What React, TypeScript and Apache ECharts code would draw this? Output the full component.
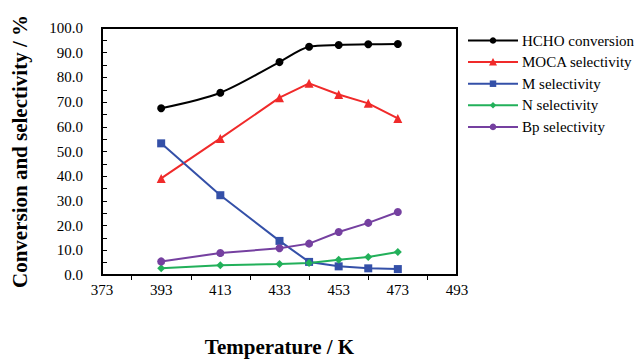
import React, { useEffect, useRef } from "react";
import * as echarts from "echarts";

const temperatures = [393, 413, 433, 443, 453, 463, 473];
const hchoConversion = [67.5, 73.8, 86.2, 92.4, 93.1, 93.4, 93.5];
const mocaSelectivity = [39.1, 55.3, 71.8, 77.6, 73.1, 69.5, 63.4];
const mSelectivity = [53.3, 32.3, 13.8, 5.3, 3.5, 2.7, 2.4];
const nSelectivity = [2.7, 3.9, 4.5, 4.9, 6.2, 7.3, 9.3];
const bpSelectivity = [5.5, 8.9, 10.8, 12.7, 17.4, 21.1, 25.5];

const seriesNames = ["HCHO conversion", "MOCA selectivity", "M selectivity", "N selectivity", "Bp selectivity"];
const seriesColors = ["#000000", "#f02a2a", "#3450a8", "#22b05a", "#7540a0"];
const seriesSymbols = ["circle", "triangle", "rect", "diamond", "circle"];

const FONT = "Liberation Serif";

function legendMarker(symbol: string, cx: number, cy: number, color: string, s: number) {
  const style = { fill: color };
  if (symbol === "circle") return { type: "circle", shape: { cx, cy, r: s / 2 }, style };
  if (symbol === "rect") return { type: "rect", shape: { x: cx - s / 2, y: cy - s / 2, width: s, height: s }, style };
  if (symbol === "triangle")
    return { type: "polygon", shape: { points: [[cx, cy - s / 2 - 0.5], [cx + s / 2 + 0.5, cy + s / 2], [cx - s / 2 - 0.5, cy + s / 2]] }, style };
  return { type: "polygon", shape: { points: [[cx, cy - s / 2], [cx + s / 2, cy], [cx, cy + s / 2], [cx - s / 2, cy]] }, style };
}

export default function App() {
  const ref = useRef<HTMLDivElement>(null);
  useEffect(() => {
    if (!ref.current) return;
    const chart = echarts.init(ref.current, null, { renderer: "svg" });
    const pair = (vals: number[]) => temperatures.map((t, i) => [t, vals[i]]);
    const values = [hchoConversion, mocaSelectivity, mSelectivity, nSelectivity, bpSelectivity];
    const series = seriesNames.map((name, i) => ({
      name,
      type: "line",
      data: pair(values[i]),
      smooth: i === 0 ? 0.3 : false,
      symbol: seriesSymbols[i],
      symbolSize: seriesSymbols[i] === "triangle" ? 9 : 8,
      showSymbol: true,
      lineStyle: { color: seriesColors[i], width: 2 },
      itemStyle: { color: seriesColors[i] },
      z: 3,
    }));

    const legendLeft = 468;
    const legendTop = 40.5;
    const rowGap = 21.6;
    const legendChildren: any[] = [];
    seriesNames.forEach((name, i) => {
      const y = legendTop + i * rowGap;
      legendChildren.push({
        type: "line",
        shape: { x1: legendLeft, y1: y, x2: legendLeft + 50, y2: y },
        style: { stroke: seriesColors[i], lineWidth: 2 },
      });
      legendChildren.push(legendMarker(seriesSymbols[i], legendLeft + 25, y, seriesColors[i], seriesSymbols[i] === "triangle" ? 7 : 6.5));
      legendChildren.push({
        type: "text",
        x: legendLeft + 54,
        y,
        style: {
          text: name,
          font: "normal 15px 'Times New Roman', 'Liberation Serif', serif",
          fill: "#000",
          verticalAlign: "middle",
          align: "left",
        },
      });
    });

    chart.setOption({
      animation: false,
      backgroundColor: "#fff",
      textStyle: { fontFamily: FONT },
      grid: {
        left: 102,
        right: 181,
        top: 28,
        bottom: 85,
        show: true,
        containLabel: false,
        outerBoundsMode: "none",
        borderColor: "#000",
        borderWidth: 2,
        backgroundColor: "transparent",
      },
      legend: { show: false, data: seriesNames },
      graphic: [{ type: "group", children: legendChildren }],
      xAxis: {
        type: "value",
        min: 373,
        max: 493,
        interval: 20,
        name: "Temperature / K",
        nameLocation: "middle",
        nameGap: 61,
        nameTextStyle: { fontFamily: FONT, fontSize: 21, fontWeight: "bold", color: "#000" },
        axisLine: { show: true, lineStyle: { color: "#000", width: 2 } },
        axisTick: { show: false },
        minorTick: { show: true, splitNumber: 2, inside: true, length: 5, lineStyle: { color: "#000", width: 1 } },
        axisLabel: { fontFamily: FONT, fontSize: 15, color: "#000", margin: 7 },
        splitLine: { show: false },
        minorSplitLine: { show: false },
      },
      yAxis: {
        type: "value",
        min: 0,
        max: 100,
        interval: 10,
        name: "Conversion and selectivity / %",
        nameLocation: "middle",
        nameGap: 72,
        nameTextStyle: { fontFamily: FONT, fontSize: 21, fontWeight: "bold", color: "#000" },
        axisLine: { show: true, lineStyle: { color: "#000", width: 2 } },
        axisTick: { show: true, inside: true, length: 5, lineStyle: { color: "#000", width: 1 } },
        minorTick: { show: true, splitNumber: 2, inside: true, length: 5, lineStyle: { color: "#000", width: 1 } },
        axisLabel: { fontFamily: FONT, fontSize: 15, color: "#000", margin: 19, formatter: (v: number) => v.toFixed(1) },
        splitLine: { show: false },
        minorSplitLine: { show: false },
      },
      series,
    });
    return () => chart.dispose();
  }, []);
  return <div ref={ref} style={{ width: 638, height: 360, position: "absolute", left: 0, top: 0 }} />;
}
